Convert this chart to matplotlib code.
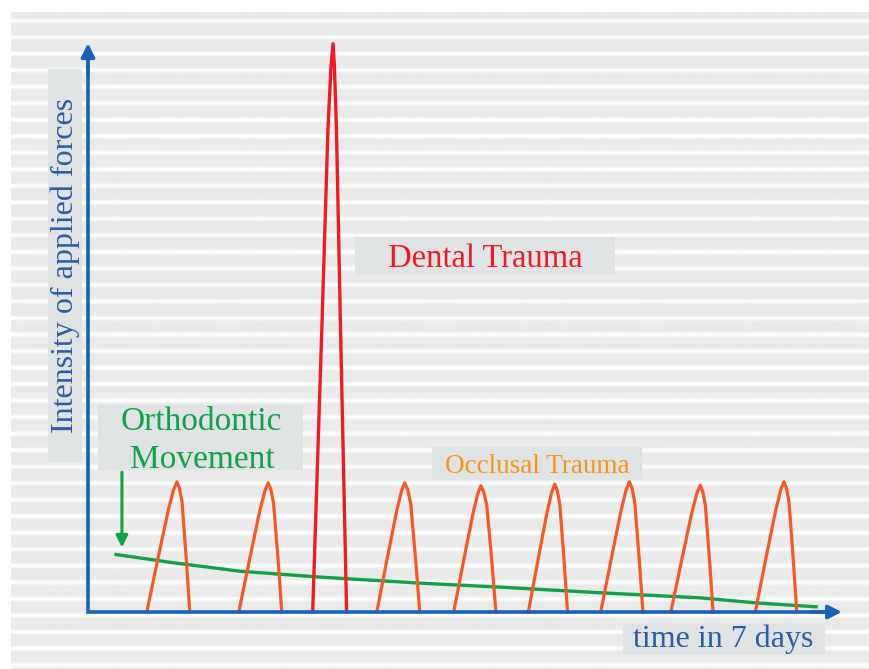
import matplotlib
matplotlib.use("Agg")
import matplotlib.pyplot as plt
import numpy as np
from matplotlib.patches import Rectangle

# occlusal trauma peaks (time units 0-100, intensity units 0-100)
occ_start = [7.8, 20.0, 38.3, 48.5, 58.4, 68.0, 77.3, 88.5]
occ_top = [11.8, 23.9, 42.0, 52.1, 61.9, 71.8, 81.2, 92.3]
occ_end = [13.5, 25.7, 44.0, 54.1, 63.6, 73.6, 82.9, 94.0]
occ_height = [23.0, 22.8, 22.8, 22.3, 22.6, 23.0, 22.4, 23.0]

# one dental trauma spike
dental_start = 29.8
dental_top = 32.5
dental_end = 34.3
dental_height = 100.4

# orthodontic movement: slowly decreasing force
ortho_t = [3.5, 11.3, 20.2, 30.4, 44.0, 54.6, 67.9, 81.2, 88.7, 96.8]
ortho_i = [10.2, 8.7, 7.2, 6.2, 5.1, 4.4, 3.4, 2.5, 1.6, 0.9]

# hand-drawn peak outline (fraction of rise / fall, fraction of height)
occ_rise_u = [0.0, 0.36, 0.71, 0.89, 1.0]
occ_rise_v = [0.0, 0.40, 0.78, 0.94, 1.0]
occ_fall_u = [0.0, 0.2, 0.4, 0.73, 1.0]
occ_fall_v = [1.0, 0.95, 0.84, 0.40, 0.0]

dent_rise_u = [0.0, 0.45, 0.75, 0.90, 1.0]
dent_rise_v = [0.0, 0.50, 0.85, 0.96, 1.0]
dent_fall_u = [0.0, 0.10, 0.25, 0.55, 1.0]
dent_fall_v = [1.0, 0.96, 0.85, 0.50, 0.0]

AXIS_BLUE = "#1a62b5"
TEXT_BLUE = "#2d5ca8"
ORANGE = "#f15a29"
RED = "#ed1c24"
GREEN = "#12a04a"
BOX = "#e0e3e3"
FONT = "Liberation Serif"


def peak_outline(start, top, end, height, ru, rv, fu, fv):
    xs = [start + u * (top - start) for u in ru] + [top + u * (end - top) for u in fu[1:]]
    ys = [v * height for v in rv] + [v * height for v in fv[1:]]
    return xs, ys


fig = plt.figure(figsize=(8.69, 6.69), dpi=100)

# background in pixel coordinates
bg = fig.add_axes([0, 0, 1, 1])
bg.set_xlim(0, 869)
bg.set_ylim(669, 0)
bg.axis("off")
rows = np.arange(12, 669) + 0.5
phase = ((rows - 20.7) / 16.52) % 1.0
dist = np.minimum(phase, 1 - phase) * 16.52
shade = 0.915 + 0.085 * np.exp(-(dist / 2.2) ** 2)
bg.imshow(np.tile(shade[:, None], (1, 4)), cmap="gray", vmin=0, vmax=1,
          extent=[11, 869, 669, 12], aspect="auto", interpolation="bilinear")

for x0, y0, x1, y1 in [(48, 69, 82, 462), (355, 237, 615, 275), (98, 405, 303, 470),
                       (432, 447, 642, 480), (623, 623, 825, 655)]:
    bg.add_patch(Rectangle((x0, y0), x1 - x0, y1 - y0, facecolor=BOX, edgecolor="none"))

bg.text(73, 265, "Intensity of applied forces", rotation=90, rotation_mode="anchor",
        ha="center", va="baseline", color=TEXT_BLUE, fontsize=23, family=FONT)
bg.text(485, 267, "Dental Trauma", ha="center", va="baseline", color=RED, fontsize=23.5, family=FONT)
bg.text(201, 430, "Orthodontic", ha="center", va="baseline", color=GREEN, fontsize=24, family=FONT)
bg.text(202, 468, "Movement", ha="center", va="baseline", color=GREEN, fontsize=24, family=FONT)
bg.text(537, 473, "Occlusal Trauma", ha="center", va="baseline", color="#f7941d", fontsize=19.5, family=FONT)
bg.text(723, 647, "time in 7 days", ha="center", va="baseline", color=TEXT_BLUE, fontsize=23, family=FONT)

# data axes
ax = fig.add_axes([0, 0, 1, 1])
ax.patch.set_alpha(0)
ax.set_xlim(-88 / 7.54, 781 / 7.54)
ax.set_ylim(-57 / 5.66, 612 / 5.66)
ax.axis("off")

ax.plot(ortho_t, ortho_i, color=GREEN, lw=2.4, solid_capstyle="butt", zorder=3)

for s, t, e, h in zip(occ_start, occ_top, occ_end, occ_height):
    xs, ys = peak_outline(s, t, e, h, occ_rise_u, occ_rise_v, occ_fall_u, occ_fall_v)
    ax.plot(xs, ys, color=ORANGE, lw=2.3, solid_joinstyle="round", zorder=4)

xs, ys = peak_outline(dental_start, dental_top, dental_end, dental_height,
                      dent_rise_u, dent_rise_v, dent_fall_u, dent_fall_v)
ax.plot(xs, ys, color=RED, lw=2.4, solid_joinstyle="round", zorder=4)

# axes with arrow heads
ax.plot([0, 0, 98], [98, 0, 0], color=AXIS_BLUE, lw=2.6, solid_joinstyle="miter", zorder=5)
arrow = dict(arrowstyle="-|>,head_length=0.8,head_width=0.4", color=AXIS_BLUE, lw=2.6,
             shrinkA=0, shrinkB=0)
ax.annotate("", xy=(100, 0), xytext=(96, 0), arrowprops=arrow, zorder=5)
ax.annotate("", xy=(0, 100.5), xytext=(0, 95), arrowprops=arrow, zorder=5)

# pointer to the orthodontic line
ax.annotate("", xy=(4.5, 11.4), xytext=(4.5, 24.7),
            arrowprops=dict(arrowstyle="-|>,head_length=0.7,head_width=0.35", color=GREEN,
                            lw=2.2, shrinkA=0, shrinkB=0), zorder=5)

fig.savefig("out.png", dpi=100)
